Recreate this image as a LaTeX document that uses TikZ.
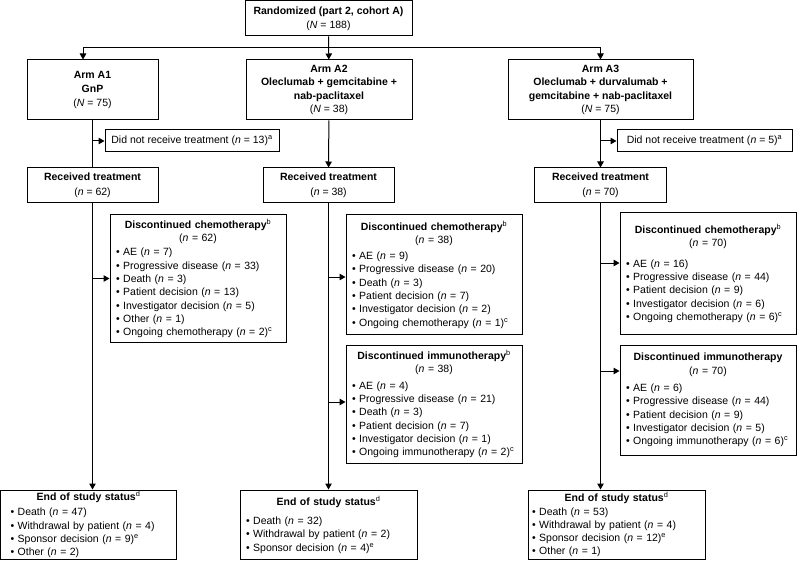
\documentclass[tikz,border=0pt]{standalone}
\usepackage{fontspec}
\setmainfont{Liberation Sans}
\usetikzlibrary{arrows.meta}
\newcommand\supr[1]{\textsuperscript{#1}}
\newcommand\bul{\textbullet\ }
\begin{document}
\begin{tikzpicture}[x=1pt,y=-1pt,
 every node/.style={font=\fontsize{10.5}{13.3}\selectfont},
 box/.style={draw, line width=1pt, inner sep=0pt, align=center},
 lbox/.style={draw, line width=1pt, inner xsep=6pt, inner ysep=0pt, align=left},
 ln/.style={line width=1pt},
 arr/.style={line width=1pt, -{Triangle[length=6pt,width=6.5pt]}}]
\useasboundingbox (0,0) rectangle (797,561);

% top
\node[box, minimum width=167pt, minimum height=35pt] (top) at (328.5,18.5) {\textbf{Randomized (part 2, cohort A)}\\[0.7pt](\textit{N} = 188)};

% arms
\node[box, minimum width=131pt, minimum height=60pt] (a1) at (92.5,90) {\textbf{Arm A1}\\\textbf{GnP}\\[0.7pt](\textit{N} = 75)};
\node[box, minimum width=166pt, minimum height=60pt] (a2) at (329,90) {\textbf{Arm A2}\\\textbf{Oleclumab + gemcitabine +}\\\textbf{nab-paclitaxel}\\(\textit{N} = 38)};
\node[box, minimum width=185pt, minimum height=60pt] (a3) at (600.5,90) {\textbf{Arm A3}\\\textbf{Oleclumab + durvalumab +}\\\textbf{gemcitabine + nab-paclitaxel}\\(\textit{N} = 75)};

% did not receive
\node[box, minimum width=174pt, minimum height=22pt] (d1) at (192,141) {Did not receive treatment (\textit{n} = 13)\supr{a}};
\node[box, minimum width=175pt, minimum height=22pt] (d3) at (704.5,141) {Did not receive treatment (\textit{n} = 5)\supr{a}};

% received
\node[box, minimum width=131pt, minimum height=35pt] (r1) at (92.5,185.5) {\textbf{Received treatment}\\[1.5pt](\textit{n} = 62)};
\node[box, minimum width=131pt, minimum height=35pt] (r2) at (328.5,185.5) {\textbf{Received treatment}\\[1.5pt](\textit{n} = 38)};
\node[box, minimum width=132pt, minimum height=35pt] (r3) at (600.5,185.5) {\textbf{Received treatment}\\[1.5pt](\textit{n} = 70)};

% discontinued boxes
\node[lbox, text width=164pt, minimum height=127pt] (c1) at (198,278.5) {%
\makebox[\linewidth]{\textbf{Discontinued chemotherapy}\supr{b}}\\
\makebox[\linewidth]{(\textit{n} = 62)}\\[1pt]
\bul AE (\textit{n} = 7)\\
\bul Progressive disease (\textit{n} = 33)\\
\bul Death (\textit{n} = 3)\\
\bul Patient decision (\textit{n} = 13)\\
\bul Investigator decision (\textit{n} = 5)\\
\bul Other (\textit{n} = 1)\\
\bul Ongoing chemotherapy (\textit{n} = 2)\supr{c}};

\node[lbox, text width=164pt, minimum height=119pt] (c2) at (434,274.5) {%
\makebox[\linewidth]{\textbf{Discontinued chemotherapy}\supr{b}}\\
\makebox[\linewidth]{(\textit{n} = 38)}\\[3pt]
\bul AE (\textit{n} = 9)\\
\bul Progressive disease (\textit{n} = 20)\\
\bul Death (\textit{n} = 3)\\
\bul Patient decision (\textit{n} = 7)\\
\bul Investigator decision (\textit{n} = 2)\\
\bul Ongoing chemotherapy (\textit{n} = 1)\supr{c}};

\node[lbox, text width=164pt, minimum height=118pt] (i2) at (434,404) {%
\makebox[\linewidth]{\textbf{Discontinued immunotherapy}\supr{b}}\\
\makebox[\linewidth]{(\textit{n} = 38)}\\[3pt]
\bul AE (\textit{n} = 4)\\
\bul Progressive disease (\textit{n} = 21)\\
\bul Death (\textit{n} = 3)\\
\bul Patient decision (\textit{n} = 7)\\
\bul Investigator decision (\textit{n} = 1)\\
\bul Ongoing immunotherapy (\textit{n} = 2)\supr{c}};

\node[lbox, text width=164pt, minimum height=121pt] (c3) at (708,273.5) {%
\makebox[\linewidth]{\textbf{Discontinued chemotherapy}\supr{b}}\\
\makebox[\linewidth]{(\textit{n} = 70)}\\[7pt]
\bul AE (\textit{n} = 16)\\
\bul Progressive disease (\textit{n} = 44)\\
\bul Patient decision (\textit{n} = 9)\\
\bul Investigator decision (\textit{n} = 6)\\
\bul Ongoing chemotherapy (\textit{n} = 6)\supr{c}};

\node[lbox, text width=164pt, minimum height=110pt] (i3) at (708,400) {%
\makebox[\linewidth]{\textbf{Discontinued immunotherapy}}\\
\makebox[\linewidth]{(\textit{n} = 70)}\\[4pt]
\bul AE (\textit{n} = 6)\\
\bul Progressive disease (\textit{n} = 44)\\
\bul Patient decision (\textit{n} = 9)\\
\bul Investigator decision (\textit{n} = 5)\\
\bul Ongoing immunotherapy (\textit{n} = 6)\supr{c}};

% end of study
\node[lbox, inner xsep=10pt, text width=156pt, minimum height=69.5pt] (e1) at (88.5,524.75) {%
\makebox[\linewidth]{\textbf{End of study status}\supr{d}}\\[1.5pt]
\bul Death (\textit{n} = 47)\\
\bul Withdrawal by patient (\textit{n} = 4)\\
\bul Sponsor decision (\textit{n} = 9)\supr{e}\\
\bul Other (\textit{n} = 2)};

\node[lbox, text width=165pt, minimum height=69.5pt] (e2) at (328.5,524.75) {%
\makebox[\linewidth]{\textbf{End of study status}\supr{d}}\\[6pt]
\bul Death (\textit{n} = 32)\\
\bul Withdrawal by patient (\textit{n} = 2)\\
\bul Sponsor decision (\textit{n} = 4)\supr{e}};

\node[lbox, inner xsep=4pt, text width=169pt, minimum height=69.5pt] (e3) at (616.5,524.75) {%
\makebox[\linewidth]{\textbf{End of study status}\supr{d}}\\
\bul Death (\textit{n} = 53)\\
\bul Withdrawal by patient (\textit{n} = 4)\\
\bul Sponsor decision (\textit{n} = 12)\supr{e}\\
\bul Other (\textit{n} = 1)};

% connectors
\coordinate (j1) at (328.5,48);
\draw[arr] (top) -- (a2);
\draw[arr] (j1) -| ([xshift=-9.5pt]a1.north);
\draw[arr] (j1) -| (a3.north);

\draw[ln] (a1) -- (r1);
\coordinate (b1) at (92.5,141);
\draw[arr] (b1) -- (d1.west);
\draw[arr] (a2) -- (r2);
\draw[arr] (a3) -- (r3);
\coordinate (b3) at (600.5,141);
\draw[arr] (b3) -- (d3.west);

\draw[arr] (r1.south) -- (r1.south |- e1.north);
\draw[arr] (r2.south) -- (r2.south |- e2.north);
\draw[arr] (r3.south) -- (r3.south |- e3.north);

\coordinate (tc1) at (c1.west);
\draw[arr] (r1.south |- tc1) -- (tc1);
\coordinate (tc2) at ([yshift=-2.5pt]c2.west);
\draw[arr] (r2.south |- tc2) -- (tc2);
\coordinate (ti2) at ([yshift=2pt]i2.west);
\draw[arr] (r2.south |- ti2) -- (ti2);
\coordinate (tc3) at ([yshift=10.5pt]c3.west);
\draw[arr] (r3.south |- tc3) -- (tc3);
\coordinate (ti3) at ([yshift=29pt]i3.west);
\draw[arr] (r3.south |- ti3) -- (ti3);
\end{tikzpicture}
\end{document}
